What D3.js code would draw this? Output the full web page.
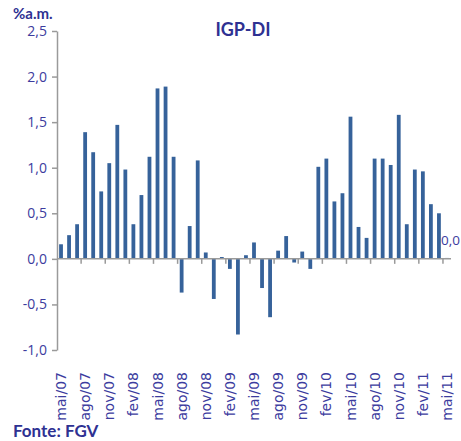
<!DOCTYPE html>
<html><head><meta charset="utf-8">
<script src="https://cdn.jsdelivr.net/npm/d3@7"></script>
<style>body{margin:0;background:#fff;} svg{display:block;}</style>
</head><body>
<script>
const months = ["mai","jun","jul","ago","set","out","nov","dez","jan","fev","mar","abr"];
const categories = [];
for (let i = 0; i < 49; i++) {
  const m = months[i % 12];
  const y = 7 + Math.floor((i + 4) / 12);
  categories.push(m + "/" + String(y).padStart(2, "0"));
}
const values = [0.16,0.26,0.38,1.39,1.17,0.74,1.05,1.47,0.98,0.38,0.70,1.12,1.87,1.89,1.12,
  -0.37,0.36,1.08,0.07,-0.44,0.02,-0.11,-0.83,0.04,0.18,-0.32,-0.64,0.09,0.25,-0.04,0.08,
  -0.11,1.01,1.10,0.63,0.72,1.56,0.35,0.23,1.10,1.10,1.03,1.58,0.38,0.98,0.96,0.60,0.50,0.01];
const yTicks = [-1.0,-0.5,0,0.5,1.0,1.5,2.0,2.5];
const lastLabel = "0,0";

const W = 461, H = 441;
const svg = d3.select("body").append("svg").attr("width", W).attr("height", H);
const xb = d3.scaleBand().domain(categories).range([57, 451]);
const y = d3.scaleLinear().domain([-1, 2.5]).range([350, 31]);
const fmt = v => d3.format(".1f")(v).replace(".", ",").replace("−","-");
const labelColor = "#3c3c9e", boldColor = "#2e3192", axisColor = "#9a9a9a";
const tickFont = "Open Sans, sans-serif";

// bars
svg.append("g").selectAll("rect").data(values).join("rect")
  .attr("x", (d, i) => xb(categories[i]) + xb.bandwidth() / 2 - 1.9)
  .attr("width", 3.8)
  .attr("y", d => y(Math.max(0, d)))
  .attr("height", d => Math.abs(y(d) - y(0)))
  .attr("fill", "#36629a");

// y axis
const ya = svg.append("g").attr("transform", "translate(57,0)")
  .call(d3.axisLeft(y).tickValues(yTicks).tickSize(5).tickSizeOuter(0).tickFormat(fmt));
ya.select(".domain").attr("stroke", axisColor).attr("stroke-width", 1.5);
ya.selectAll(".tick line").attr("stroke", axisColor).attr("stroke-width", 1.5);
ya.selectAll(".tick text").attr("fill", labelColor).attr("font-family", tickFont)
  .attr("font-size", 14).attr("x", -10);

// x axis at zero
const tickCats = categories.filter((c, i) => i % 3 === 0 && i > 0);
const xa = svg.append("g").attr("transform", `translate(0,${y(0)})`);
xa.append("line").attr("x1", 57).attr("x2", 451).attr("stroke", axisColor).attr("stroke-width", 1.5);
xa.selectAll("line.t").data(tickCats).join("line").attr("class", "t")
  .attr("x1", d => xb(d)).attr("x2", d => xb(d)).attr("y1", 0).attr("y2", 5)
  .attr("stroke", axisColor).attr("stroke-width", 1.5);

// x labels
const labCats = categories.filter((c, i) => i % 3 === 0);
svg.append("g").selectAll("text").data(labCats).join("text")
  .attr("transform", d => `translate(${xb(d) + xb.bandwidth() / 2},372) rotate(-90)`)
  .attr("text-anchor", "end").attr("dy", "0.36em")
  .attr("font-family", "DejaVu Sans, sans-serif").attr("font-size", 14)
  .attr("fill", labelColor).text(d => d);

// data label for last bar
svg.append("text").attr("x", 441).attr("y", 245).attr("font-family", tickFont)
  .attr("font-size", 13.5).attr("fill", labelColor).text(lastLabel);

// title etc
svg.append("text").attr("x", 243).attr("y", 36).attr("text-anchor", "middle")
  .attr("font-family", "Lato, sans-serif").attr("font-weight", "bold").attr("font-size", 18)
  .attr("fill", boldColor).text("IGP-DI");
svg.append("text").attr("x", 13).attr("y", 19)
  .attr("font-family", "Lato, sans-serif").attr("font-weight", "bold").attr("font-size", 15)
  .attr("fill", boldColor).text("%a.m.");
svg.append("text").attr("x", 13).attr("y", 437)
  .attr("font-family", "Lato, sans-serif").attr("font-weight", "bold").attr("font-size", 17)
  .attr("fill", boldColor).text("Fonte: FGV");
</script>
</body></html>
